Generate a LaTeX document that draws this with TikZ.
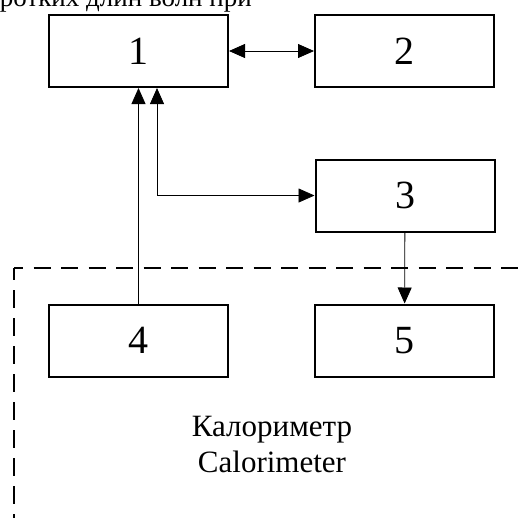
\documentclass[tikz,border=0pt]{standalone}
\usepackage{fontspec}
\setmainfont{Liberation Serif}
\usetikzlibrary{arrows.meta}
\begin{document}
\begin{tikzpicture}[x=1pt,y=-1pt,
  blk/.style={draw, line width=2pt, minimum width=179pt, minimum height=72pt, inner sep=0pt,
    font=\fontsize{40}{46}\selectfont},
  tip/.tip={Triangle[length=16pt,width=14pt]},
  conn/.style={line width=0.8pt},
  frame/.style={line width=1.6pt},
  lbl/.style={font=\fontsize{31}{37}\selectfont, inner sep=0pt},
  toplbl/.style={font=\fontsize{27}{32}\selectfont, inner sep=0pt}]
\useasboundingbox (0,0) rectangle (526,517);
% cut-off caption at the top
\node[toplbl, anchor=base east] (cap) at (252,6) {коротких длин волн при};
% blocks
\node[blk] (b1) at (138.5,51) {1};
\node[blk] (b2) at (404.5,51) {2};
\node[blk] (b3) at (405,195.5) {3};
\node[blk] (b4) at (138.5,340.5) {4};
\node[blk] (b5) at (404.5,340.5) {5};
% calorimeter frame
\coordinate (fc) at (14,268);
\coordinate (fb) at (14,540);
\coordinate (fr) at (540,268);
\draw[frame, dash pattern=on 18pt off 10pt, dash phase=6pt] (fc) -- (fb);
\draw[frame, dash pattern=on 17pt off 10.5pt, dash phase=8pt] (fc) -- (fr);
% connectors
\draw[conn, tip-tip] (b1) -- (b2);
\draw[conn, -tip] (b4) -- (b1);
\draw[conn, tip-tip] ([xshift=18.5pt]b1.south) |- (b3.west);
\draw[conn, -tip] (b3) -- (b5);
% labels
\node[lbl, anchor=base] (k1) at (272,436) {Калориметр};
\node[lbl, anchor=base] (k2) at (272,472) {Calorimeter};
\end{tikzpicture}
\end{document}
